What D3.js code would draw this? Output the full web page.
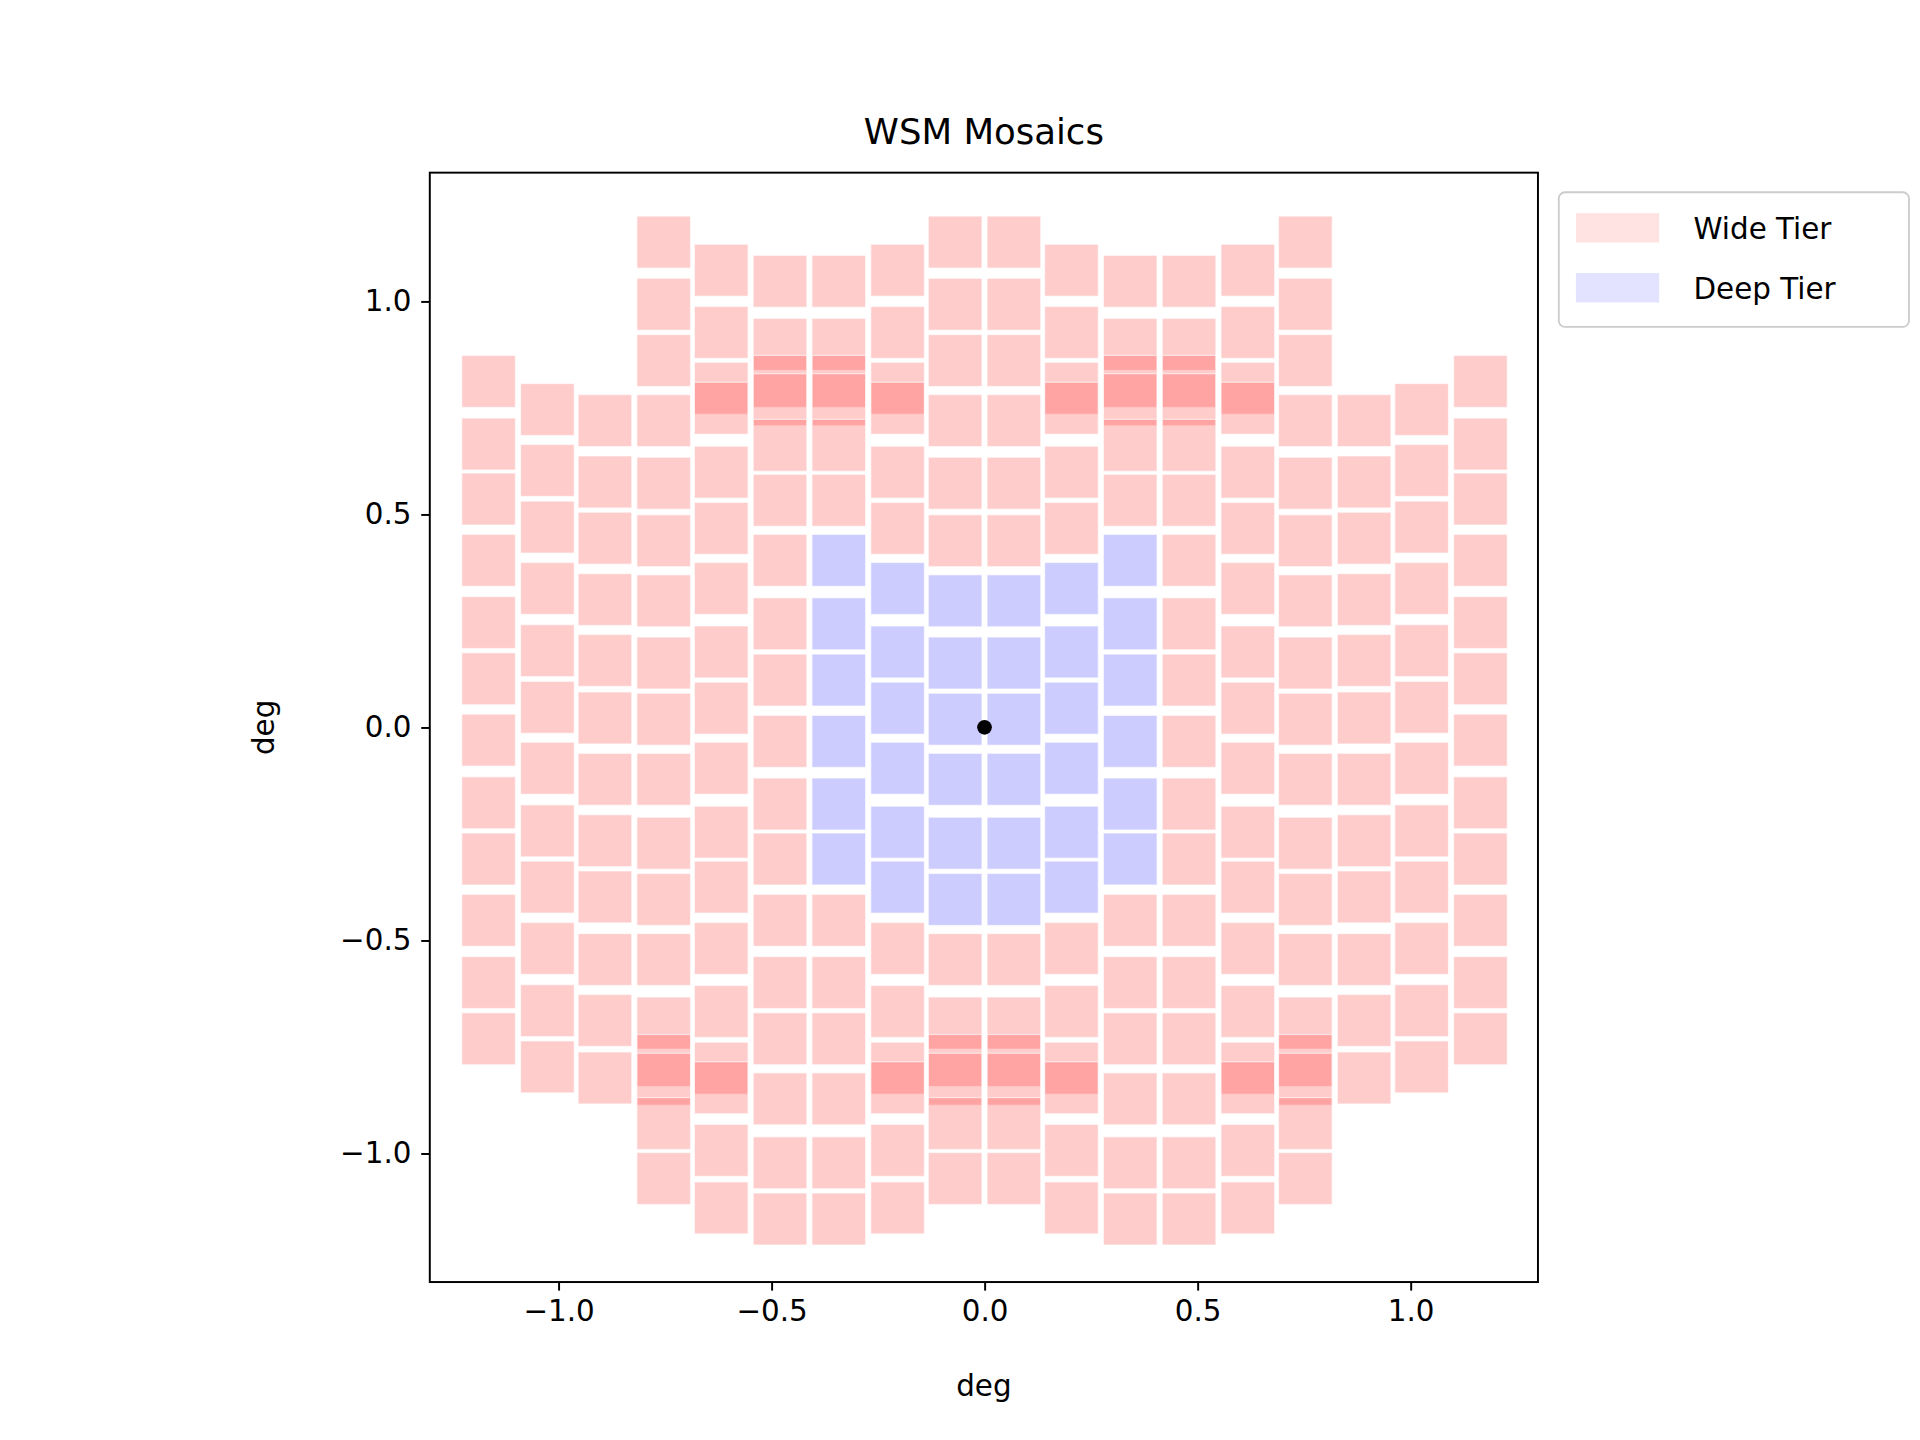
<!DOCTYPE html>
<html>
<head>
<meta charset="utf-8">
<script src="https://cdn.jsdelivr.net/npm/d3@7"></script>
<style>
  html, body { margin: 0; padding: 0; background: #fff; }
  text { font-family: "DejaVu Sans", sans-serif; }
</style>
</head>
<body>
<svg id="chart" width="1920" height="1440" viewBox="0 0 1568 1176"></svg>
<script>
// column centres (deg) for the left half, mirrored for the right half
var colX = [-1.164, -1.026, -0.891, -0.753, -0.618, -0.480, -0.342, -0.204, -0.069];

// tile centres (deg) per column pattern
var patA = [0.812, 0.665, 0.536, 0.392, 0.246, 0.114, -0.030, -0.177, -0.309, -0.453, -0.599, -0.731];
var patB = [0.746, 0.603, 0.470, 0.326, 0.180, 0.047, -0.096, -0.243, -0.375, -0.519, -0.665, -0.797];
var patC = [0.720, 0.576, 0.444, 0.300, 0.157, 0.022, -0.122, -0.266, -0.398, -0.545, -0.688, -0.823];
var patD = [1.139, 0.993, 0.861, 0.720, 0.573, 0.438, 0.297, 0.151, 0.019, -0.122, -0.272, -0.404,
            -0.545, -0.694, -0.782, -0.826, -0.930, -1.059];
var patE = [1.073, 0.927, 0.796, 0.749, 0.599, 0.467, 0.326, 0.177, 0.045, -0.096, -0.246, -0.375,
            -0.519, -0.667, -0.800, -0.846, -0.993, -1.128];
var patF = [1.047, 0.899, 0.812, 0.769, 0.662, 0.533, 0.392, 0.243, 0.111, -0.033, -0.180, -0.309,
            -0.453, -0.599, -0.731, -0.872, -1.022, -1.154];

// which pattern each left column uses, and which tiles of it belong to the deep tier
var colPattern = [patA, patB, patC, patD, patE, patF, patF, patE, patD];
var colDeep = [[], [], [], [], [], [], [6, 7, 8, 9, 10, 11], [6, 7, 8, 9, 10, 11], [6, 7, 8, 9, 10, 11]];

var tileW = 0.126, tileH = 0.122;
var xTicks = [-1.0, -0.5, 0.0, 0.5, 1.0];
var yTicks = [-1.0, -0.5, 0.0, 0.5, 1.0];
var legendItems = [
    { label: "Wide Tier", color: "rgba(255,0,0,0.11)" },
    { label: "Deep Tier", color: "rgba(0,0,255,0.11)" }
];

var svg = d3.select("#chart");
var pLeft = 351, pRight = 1256, pTop = 141, pBottom = 1047;

var x = d3.scaleLinear().domain([-1.302, 1.299]).range([pLeft, pRight]);
var y = d3.scaleLinear().domain([-1.302, 1.302]).range([pBottom, pTop]);

var tiles = [];
colX.forEach(function (cx, i) {
    colPattern[i].forEach(function (cy, j) {
        var deep = colDeep[i].indexOf(j) >= 0;
        tiles.push({ x: cx, y: cy, deep: deep });
        tiles.push({ x: -cx, y: cy, deep: deep });
    });
});

var fmt = function (d) { return d3.format(".1f")(d).replace("-", "\u2212"); };

svg.append("g").selectAll("rect")
    .data(tiles)
    .enter().append("rect")
    .attr("x", function (d) { return x(d.x - tileW / 2); })
    .attr("y", function (d) { return y(d.y + tileH / 2); })
    .attr("width", x(tileW) - x(0))
    .attr("height", y(0) - y(tileH))
    .attr("fill", function (d) { return d.deep ? "rgba(0,0,255,0.2)" : "rgba(255,0,0,0.2)"; })
    .attr("stroke", "rgba(255,255,255,0.6)")
    .attr("stroke-width", 1);

svg.append("circle")
    .attr("cx", x(0)).attr("cy", y(0)).attr("r", 6).attr("fill", "#000");

// frame
svg.append("rect")
    .attr("x", pLeft).attr("y", pTop)
    .attr("width", pRight - pLeft).attr("height", pBottom - pTop)
    .attr("fill", "none").attr("stroke", "#000").attr("stroke-width", 1.6);

var xAxis = svg.append("g")
    .attr("transform", "translate(0," + pBottom + ")")
    .call(d3.axisBottom(x).tickValues(xTicks).tickFormat(fmt).tickSize(7).tickPadding(8));
var yAxis = svg.append("g")
    .attr("transform", "translate(" + pLeft + ",0)")
    .call(d3.axisLeft(y).tickValues(yTicks).tickFormat(fmt).tickSize(7).tickPadding(8));
[xAxis, yAxis].forEach(function (g) {
    g.select(".domain").remove();
    g.selectAll(".tick line").attr("stroke", "#000").attr("stroke-width", 1.6);
    g.selectAll(".tick text").attr("font-size", 24).attr("fill", "#000")
        .style("font-family", "'DejaVu Sans', sans-serif");
});

svg.append("text").attr("x", (pLeft + pRight) / 2).attr("y", 118)
    .attr("text-anchor", "middle").attr("font-size", 29).text("WSM Mosaics");
svg.append("text").attr("x", (pLeft + pRight) / 2).attr("y", 1140)
    .attr("text-anchor", "middle").attr("font-size", 24).text("deg");
svg.append("text")
    .attr("transform", "translate(224," + (pTop + pBottom) / 2 + ") rotate(-90)")
    .attr("text-anchor", "middle").attr("font-size", 24).text("deg");

// legend
var lg = svg.append("g").attr("transform", "translate(1273,157)");
lg.append("rect").attr("width", 286).attr("height", 110).attr("rx", 5)
    .attr("fill", "#fff").attr("stroke", "#ccc").attr("stroke-width", 1.5);
legendItems.forEach(function (item, i) {
    var row = lg.append("g").attr("transform", "translate(0," + (17 + i * 49) + ")");
    row.append("rect").attr("x", 14).attr("y", 0).attr("width", 68).attr("height", 24).attr("fill", item.color);
    row.append("text").attr("x", 110).attr("y", 21).attr("font-size", 24).text(item.label);
});
</script>
</body>
</html>
